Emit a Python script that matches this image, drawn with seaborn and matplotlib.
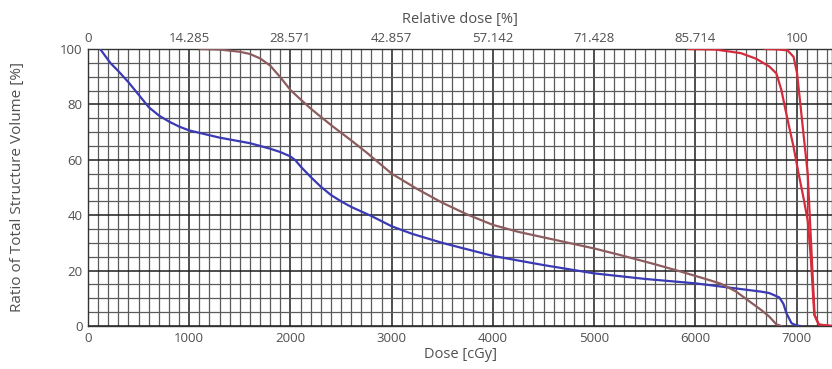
import numpy as np
import pandas as pd
import matplotlib
matplotlib.use("Agg")
import matplotlib.pyplot as plt
import seaborn as sns

# ---- data ----
blue_dose = [120, 220, 300, 400, 500, 600, 700, 800, 900, 1000, 1300, 1600, 1800, 1900, 2000,
             2050, 2100, 2200, 2300, 2400, 2500, 2600, 2800, 3000, 3200, 3500, 4000, 4500,
             5000, 5500, 6000, 6350, 6650, 6730, 6830, 6870, 6900, 6950, 7000, 7040]
blue_vol = [100, 95, 92, 88, 83.5, 79, 76, 73.8, 72, 70.6, 68, 66, 64, 62.8, 61.2,
            59.8, 57.6, 53.8, 50.3, 47.3, 45, 43, 39.7, 36, 33.3, 30, 25.3, 22,
            19, 17, 15.4, 13.8, 12.4, 11.9, 10.3, 8, 4.6, 1, 0.2, 0]

brown_dose = [1110, 1300, 1500, 1600, 1700, 1800, 1900, 2000, 2100, 2200, 2300, 2420, 2600,
              2760, 3000, 3250, 3500, 3750, 4000, 4250, 4500, 5000, 5260, 5600, 5860, 6100,
              6250, 6400, 6500, 6650, 6730, 6800, 6850]
brown_vol = [100, 99.8, 99, 98.2, 96.6, 94, 89.8, 85.2, 81.8, 78.5, 75.5, 72, 67,
             62.4, 55, 49.5, 44.5, 40.2, 36.5, 34, 32, 28, 25.6, 22.3, 19.6, 17,
             15.3, 12.5, 9.8, 5.8, 3.4, 0.6, 0]

red1_dose = [5930, 6200, 6450, 6600, 6730, 6800, 6850, 6885, 6920, 6970, 7020, 7070, 7110,
             7140, 7175, 7220, 7350]
red1_vol = [100, 99.8, 98.5, 96.5, 93.7, 91.2, 85.2, 79, 73, 64.7, 55, 46, 38,
            25, 4, 0.5, 0]

red2_dose = [6690, 6800, 6910, 6970, 7005, 7040, 7075, 7110, 7130, 7150, 7178, 7220, 7350]
red2_vol = [100, 99.9, 99.5, 97.2, 91.2, 79.2, 67, 55, 40, 25, 4, 0.5, 0]

dose_ticks = [0, 1000, 2000, 3000, 4000, 5000, 6000, 7000]
dose_labels = ["0", "1000", "2000", "3000", "4000", "5000", "6000", "7000"]
rel_labels = ["0", "14.285", "28.571", "42.857", "57.142", "71.428", "85.714", "100"]
vol_ticks = [0, 20, 40, 60, 80, 100]

series = {"blue": (blue_dose, blue_vol), "brown": (brown_dose, brown_vol),
          "red1": (red1_dose, red1_vol), "red2": (red2_dose, red2_vol)}
frames = []
for name, (d, v) in series.items():
    frames.append(pd.DataFrame({"dose": d, "vol": v, "structure": name}))
df = pd.concat(frames, ignore_index=True)

palette = {"blue": "#3a3ab4", "brown": "#8c5c5e", "red1": "#d42c3c", "red2": "#d42c3c"}

sns.set_style("white")
plt.rcParams["font.family"] = ["Open Sans", "DejaVu Sans"]
text_color = "#505050"

fig = plt.figure(figsize=(8.32, 3.69), dpi=100)
ax = fig.add_axes([88 / 832, 1 - 326 / 369, 1 - 88 / 832, (326 - 49) / 369])

sns.lineplot(data=df, x="dose", y="vol", hue="structure", palette=palette,
             estimator=None, sort=False, legend=False, linewidth=1.6, ax=ax, zorder=3)

ax.set_xlim(0, 7350)
ax.set_ylim(0, 100)
ax.set_xticks(dose_ticks)
ax.set_xticklabels(dose_labels)
ax.set_yticks(vol_ticks)
ax.set_xticks(np.arange(0, 7400, 100), minor=True)
ax.set_yticks(np.arange(0, 101, 5), minor=True)
ax.grid(which="minor", color="#5a5a5a", linewidth=0.9, zorder=0)
ax.grid(which="major", color="#1e1e1e", linewidth=1.1, zorder=0)
ax.set_axisbelow(True)

ax.tick_params(which="both", length=0, labelsize=9.5, colors=text_color, pad=4)
for s in ax.spines.values():
    s.set_color("#333333")
    s.set_linewidth(1.0)

ax.set_xlabel("Dose [cGy]", fontsize=10.5, color=text_color, labelpad=2)
ax.set_ylabel("Ratio of Total Structure Volume [%]", fontsize=11, color=text_color, labelpad=25)

top = ax.secondary_xaxis("top")
top.set_xticks(dose_ticks)
top.set_xticklabels(rel_labels)
top.tick_params(length=0, labelsize=9.5, colors=text_color, pad=3)
top.set_xlabel("Relative dose [%]", fontsize=10.5, color=text_color, labelpad=6)
top.spines["top"].set_visible(False)

fig.savefig("out.png", dpi=100)
